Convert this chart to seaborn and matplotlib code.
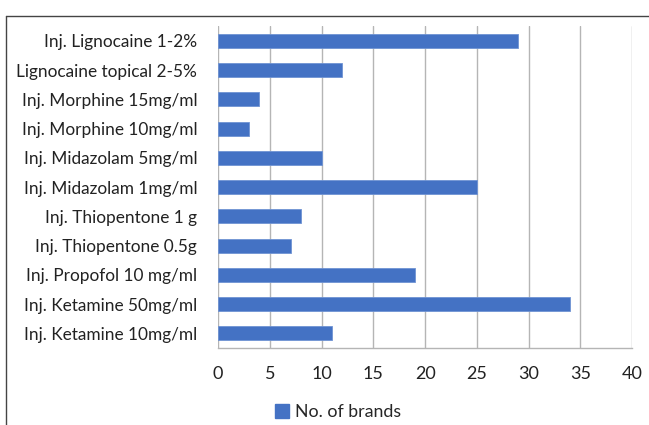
import matplotlib
matplotlib.use("Agg")
import matplotlib.pyplot as plt
import matplotlib.lines as mlines
from matplotlib.patches import Patch
import seaborn as sns
import pandas as pd

drugs = [
    "Inj. Lignocaine 1-2%",
    "Lignocaine topical 2-5%",
    "Inj. Morphine 15mg/ml",
    "Inj. Morphine 10mg/ml",
    "Inj. Midazolam 5mg/ml",
    "Inj. Midazolam 1mg/ml",
    "Inj. Thiopentone 1 g",
    "Inj. Thiopentone 0.5g",
    "Inj. Propofol 10 mg/ml",
    "Inj. Ketamine 50mg/ml",
    "Inj. Ketamine 10mg/ml",
]
brands = [29, 12, 4, 3, 10, 25, 8, 7, 19, 34, 11]
x_ticks = [0, 5, 10, 15, 20, 25, 30, 35, 40]
series_name = "No. of brands"

df = pd.DataFrame({"drug": drugs, "brands": brands})

sns.set_theme(style="white")
plt.rcParams["font.family"] = ["Lato", "DejaVu Sans"]

bar_color = "#4472C4"
fig = plt.figure(figsize=(6.49, 4.25), dpi=100)
ax = fig.add_axes([0.336, 0.181, 0.638, 0.757])

sns.barplot(data=df, x="brands", y="drug", order=drugs, color=bar_color,
            width=0.48, saturation=1, edgecolor="#6f93d3", linewidth=0.6, ax=ax)

ax.set_xlim(0, 40)
ax.set_xticks(x_ticks)
ax.set_xticklabels([str(t) for t in x_ticks], fontsize=13, color="#222222")
ax.tick_params(axis="y", labelsize=12.4, labelcolor="#222222", length=0, pad=15)
ax.tick_params(axis="x", length=0, pad=13)
ax.set_xlabel("")
ax.set_ylabel("")
ax.grid(axis="x", color="#b5b5b5", linewidth=1.0)
ax.set_axisbelow(True)
for side in ["top", "right", "left"]:
    ax.spines[side].set_visible(False)
ax.spines["bottom"].set_color("#b5b5b5")
ax.spines["bottom"].set_linewidth(1.0)

# outer frame on the left and top
fig.add_artist(mlines.Line2D([6 / 649, 6 / 649], [0, 1 - 16 / 425],
                             transform=fig.transFigure, color="#444444", lw=1.0))
fig.add_artist(mlines.Line2D([6 / 649, 1], [1 - 16 / 425, 1 - 16 / 425],
                             transform=fig.transFigure, color="#444444", lw=1.0))

handle = Patch(facecolor=bar_color, edgecolor=bar_color)
fig.legend([handle], [series_name], loc="center", bbox_to_anchor=(338 / 649, 1 - 412 / 425),
           frameon=False, fontsize=12.8, handlelength=0.8, handleheight=0.8, handletextpad=0.3)

fig.savefig("out.png", dpi=100)
